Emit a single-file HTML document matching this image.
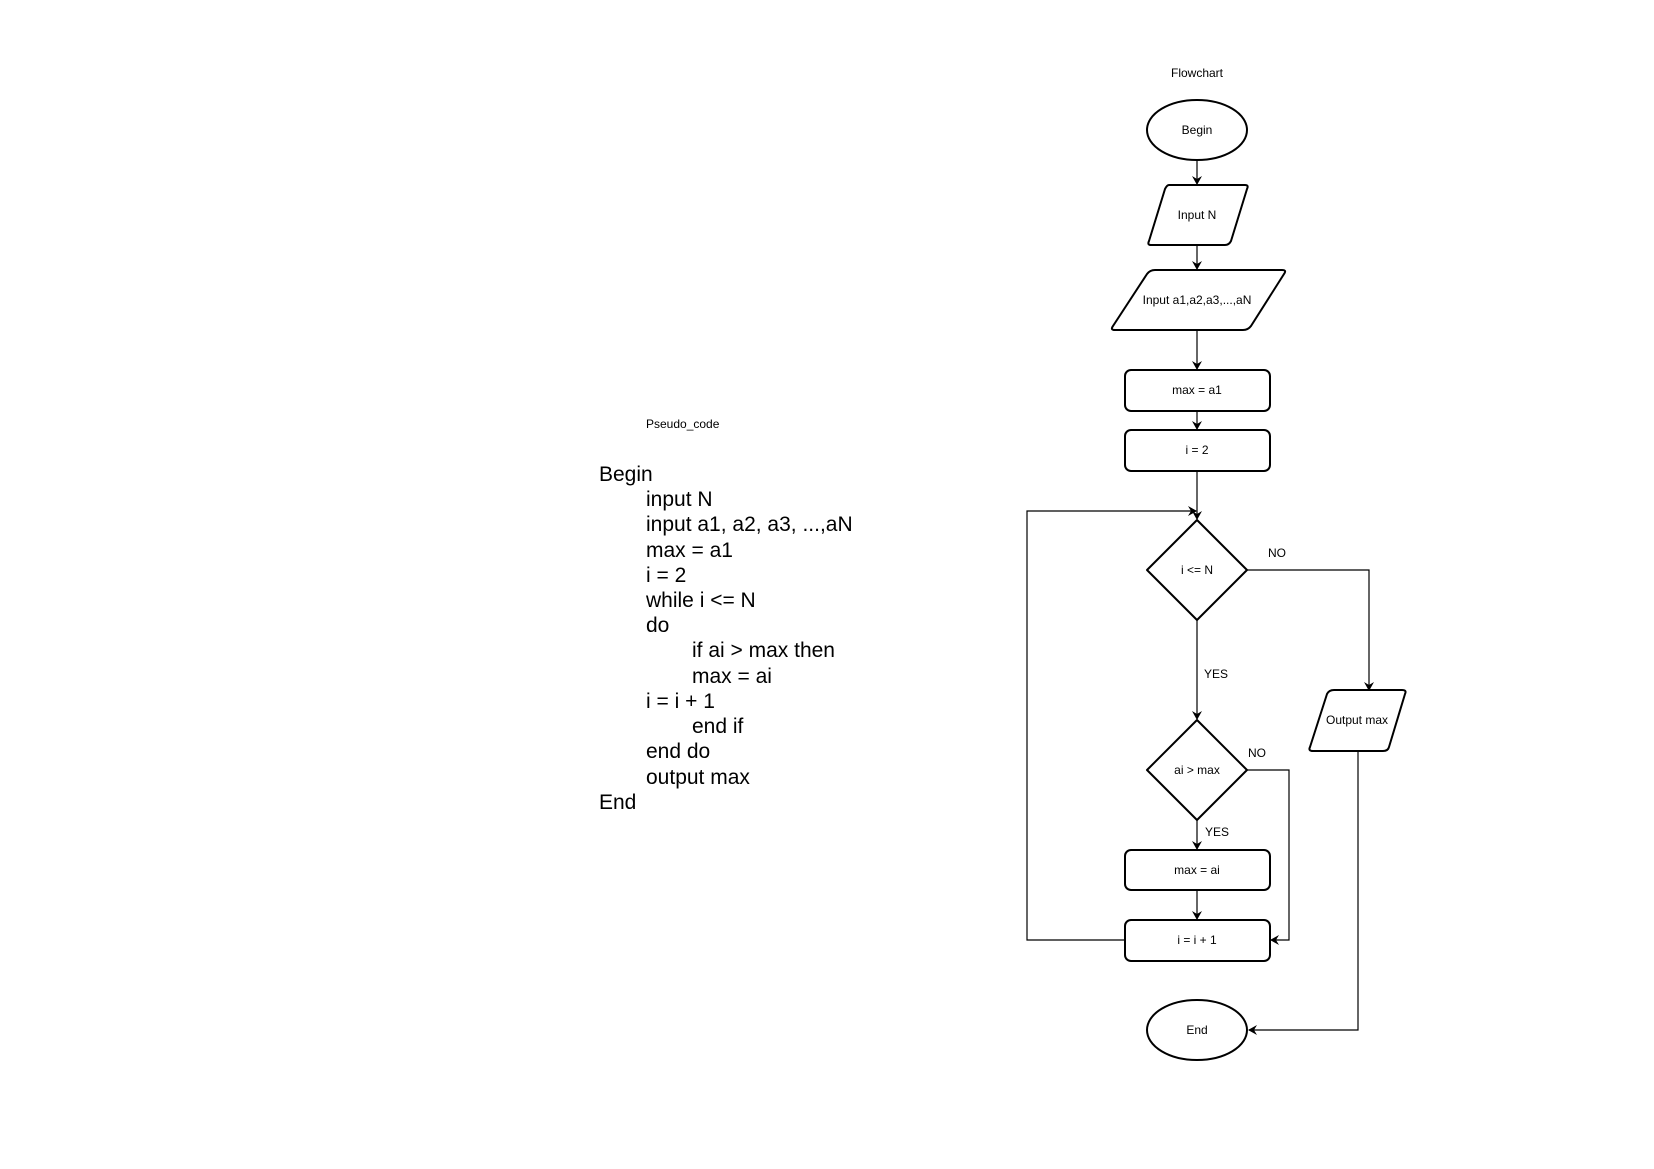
<!DOCTYPE html>
<html><head><meta charset="utf-8"><style>
html,body{margin:0;padding:0;background:#fff;}
body{width:1654px;height:1169px;position:relative;overflow:hidden;font-family:"Liberation Sans",Arial,sans-serif;}
.pc{position:absolute;font-size:21px;line-height:25px;color:#000;white-space:pre;}
</style></head><body>
<div style="position:absolute;left:646px;top:417px;font-size:12px;">Pseudo_code</div>
<div class="pc" style="left:599px;top:462px;">Begin</div>
<div class="pc" style="left:646px;top:487px;">input N</div>
<div class="pc" style="left:646px;top:512px;">input a1, a2, a3, ...,aN</div>
<div class="pc" style="left:646px;top:538px;">max = a1</div>
<div class="pc" style="left:646px;top:563px;">i = 2</div>
<div class="pc" style="left:646px;top:588px;">while i &lt;= N</div>
<div class="pc" style="left:646px;top:613px;">do</div>
<div class="pc" style="left:692px;top:638px;">if ai &gt; max then</div>
<div class="pc" style="left:692px;top:664px;">max = ai</div>
<div class="pc" style="left:646px;top:689px;">i = i + 1</div>
<div class="pc" style="left:692px;top:714px;">end if</div>
<div class="pc" style="left:646px;top:739px;">end do</div>
<div class="pc" style="left:646px;top:765px;">output max</div>
<div class="pc" style="left:599px;top:790px;">End</div>

<svg width="1654" height="1169" style="position:absolute;left:0;top:0" xmlns="http://www.w3.org/2000/svg">
<defs><marker id="a" markerWidth="10" markerHeight="10" refX="8" refY="5" orient="auto" markerUnits="userSpaceOnUse">
<path d="M0,0 L9,5 L0,10 L3,5 Z" fill="#000"/></marker></defs>
<g font-family="Liberation Sans, Arial, sans-serif" font-size="12" text-anchor="middle" fill="#000">
<text x="1197" y="77">Flowchart</text>
</g>
<g fill="#fff" stroke="#000" stroke-width="2" stroke-linejoin="round">
<ellipse cx="1197" cy="130" rx="50" ry="30"/>
<path d="M1169,185 L1245,185 Q1249,185 1247,189 L1231,241 Q1229,245 1225,245 L1151,245 Q1147,245 1149,241 L1165,189 Q1167,185 1169,185 Z"/>
<path d="M1155,270 L1282,270 Q1287,270 1284,274 L1251,326 Q1248,330 1243,330 L1115,330 Q1110,330 1113,326 L1147,274 Q1150,270 1155,270 Z"/>
<rect x="1125" y="370" width="145" height="41" rx="6"/>
<rect x="1125" y="430" width="145" height="41" rx="6"/>
<path d="M1197,520 L1247,570 L1197,620 L1147,570 Z"/>
<path d="M1197,720 L1247,770 L1197,820 L1147,770 Z"/>
<rect x="1125" y="850" width="145" height="40" rx="6"/>
<rect x="1125" y="920" width="145" height="41" rx="6"/>
<ellipse cx="1197" cy="1030" rx="50" ry="30"/>
<path d="M1334,690 L1402,690 Q1407,690 1405,694 L1389,747 Q1388,751 1383,751 L1313,751 Q1308,751 1310,747 L1327,694 Q1329,690 1334,690 Z"/>
</g>
<g fill="none" stroke="#000" stroke-width="1.2">
<line x1="1197" y1="160" x2="1197" y2="184" marker-end="url(#a)"/>
<line x1="1197" y1="245" x2="1197" y2="269" marker-end="url(#a)"/>
<line x1="1197" y1="330" x2="1197" y2="369" marker-end="url(#a)"/>
<line x1="1197" y1="411" x2="1197" y2="429" marker-end="url(#a)"/>
<line x1="1197" y1="471" x2="1197" y2="519" marker-end="url(#a)"/>
<line x1="1197" y1="620" x2="1197" y2="719" marker-end="url(#a)"/>
<line x1="1197" y1="820" x2="1197" y2="849" marker-end="url(#a)"/>
<line x1="1197" y1="890" x2="1197" y2="919" marker-end="url(#a)"/>
<polyline points="1247,570 1369,570 1369,690" marker-end="url(#a)"/>
<polyline points="1247,770 1289,770 1289,940 1271,940" marker-end="url(#a)"/>
<polyline points="1125,940 1027,940 1027,511 1196,511" marker-end="url(#a)"/>
<polyline points="1358,751 1358,1030 1249,1030" marker-end="url(#a)"/>
</g>
<g font-family="Liberation Sans, Arial, sans-serif" font-size="12" text-anchor="middle" fill="#000">
<text x="1197" y="134">Begin</text>
<text x="1197" y="219">Input N</text>
<text x="1197" y="304">Input a1,a2,a3,...,aN</text>
<text x="1197" y="394">max = a1</text>
<text x="1197" y="454">i = 2</text>
<text x="1197" y="574">i &lt;= N</text>
<text x="1197" y="774">ai &gt; max</text>
<text x="1197" y="874">max = ai</text>
<text x="1197" y="944">i = i + 1</text>
<text x="1197" y="1034">End</text>
<text x="1357" y="724">Output max</text>
<text x="1277" y="557">NO</text>
<text x="1216" y="678">YES</text>
<text x="1257" y="757">NO</text>
<text x="1217" y="836">YES</text>
</g>
</svg>
</body></html>
